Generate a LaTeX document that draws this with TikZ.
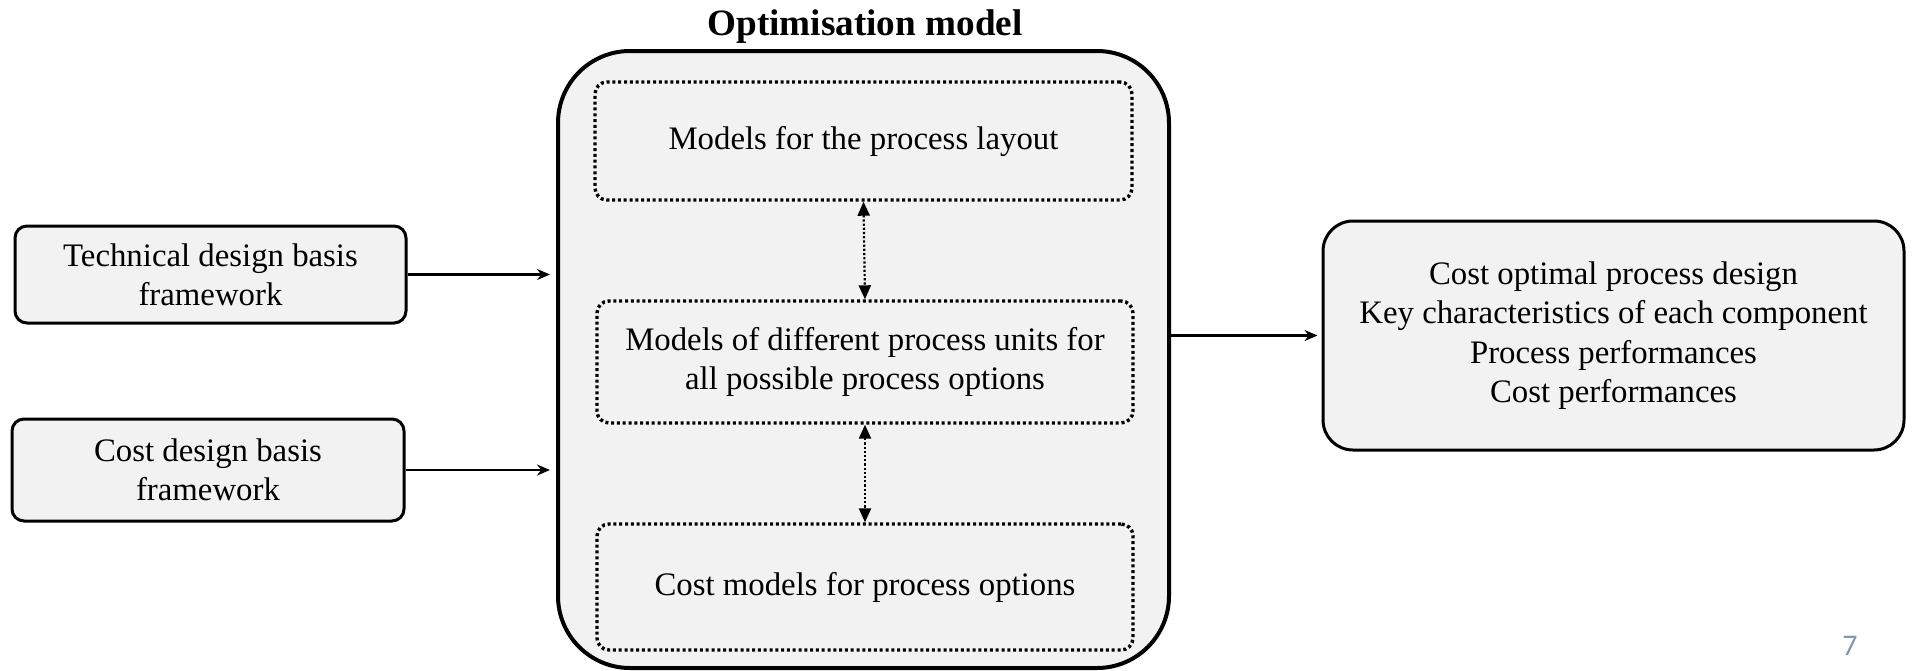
\documentclass[tikz,border=0pt]{standalone}
\usepackage{fontspec}
\setmainfont{Liberation Serif}
\newfontfamily\numfont{Carlito}
\usetikzlibrary{arrows.meta}
\definecolor{boxfill}{HTML}{F2F2F2}
\definecolor{pagenum}{HTML}{8497B0}
\begin{document}
\begin{tikzpicture}[x=1pt,y=1pt,
  txt/.style={font=\fontsize{16.4}{19.7}\selectfont, align=center},
  inbox/.style={txt, draw, line width=1.5pt, fill=boxfill, rounded corners=6pt, inner sep=0pt},
  bigbox/.style={draw, line width=2pt, fill=boxfill, rounded corners=36pt, inner sep=0pt},
  dotbox/.style={txt, draw, line width=1.7pt, dash pattern=on 1.5pt off 1.4pt, rounded corners=6pt, inner sep=0pt},
  outbox/.style={txt, draw, line width=1.5pt, fill=boxfill, rounded corners=15pt, inner sep=0pt},
  flow/.style={line width=1.1pt, -{Stealth[length=6.5pt,width=5.5pt]}},
  link/.style={line width=1.1pt, dash pattern=on 1.1pt off 1pt, {Triangle[length=7pt,width=6pt]}-{Triangle[length=7pt,width=6pt]}}
]
\useasboundingbox (0,0) rectangle (956,-335);
\node[bigbox, minimum width=305.5pt, minimum height=308.5pt] (big) at (431.75,-179.75) {};
\node[font=\fontsize{18.6}{22}\selectfont\bfseries] (title) at (432.5,-13.5) {Optimisation model};
\node[dotbox, minimum width=268.5pt, minimum height=59pt] (d1) at (431.75,-70.5) {Models for the process layout};
\node[dotbox, minimum width=268pt, minimum height=61pt] (d2) at (432.5,-181) {Models of different process units for\\all possible process options};
\node[dotbox, minimum width=268pt, minimum height=63pt] (d3) at (432.5,-293.5) {Cost models for process options};
\node[inbox, minimum width=195.5pt, minimum height=48.5pt] (t1) at (105.25,-137.25) {Technical design basis\\framework};
\node[inbox, minimum width=196pt, minimum height=51pt] (t2) at (104,-235) {Cost design basis\\framework};
\node[outbox, minimum width=290.5pt, minimum height=114.5pt] (r) at (806.75,-167.75) {Cost optimal process design\\Key characteristics of each component\\Process performances\\Cost performances};
\node[font=\numfont\fontsize{15}{17}\selectfont, text=pagenum] (pg) at (925,-323) {7};
\draw[flow, shorten >=3pt] (t1.east) -- (t1.east -| big.west);
\draw[flow, shorten >=3pt] (t2.east) -- (t2.east -| big.west);
\draw[flow, shorten >=2pt] (big.east |- r.west) -- (r.west);
\draw[link] (d1.south) -- (d2.north);
\draw[link] (d2.south) -- (d3.north);
\end{tikzpicture}
\end{document}
